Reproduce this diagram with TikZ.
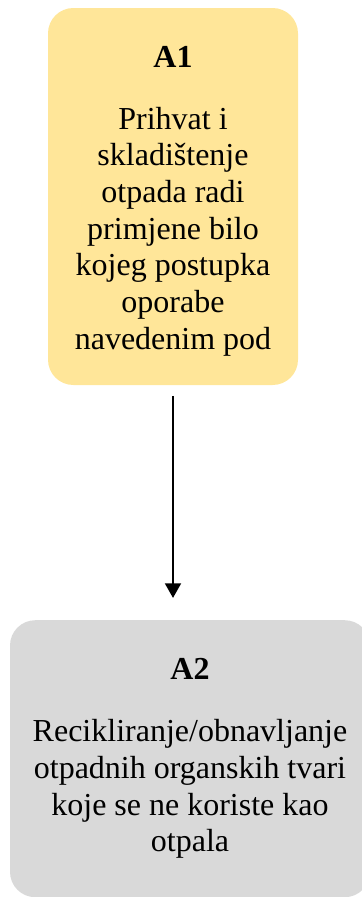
\documentclass[tikz,border=0pt]{standalone}
\usepackage{fontspec}
\setmainfont{Liberation Serif}
\usepackage{tikz}
\usetikzlibrary{arrows.meta, positioning}
\usepackage{xcolor}
\definecolor{boxyellow}{HTML}{FFE699}
\definecolor{boxgray}{HTML}{D9D9D9}

\begin{document}
\begin{tikzpicture}[
x=0.75pt, y=-0.75pt,
node distance=176pt,
box/.style={rectangle, rounded corners=19pt, inner sep=0pt, align=center,
font=\fontsize{24}{27.5}\selectfont},
arrow/.style={-{Triangle[width=12pt, length=11pt]}, line width=1.5pt}
]

\useasboundingbox (0,0) rectangle (361,897);

\node[box, fill=boxyellow, minimum width=187.5pt, minimum height=282.75pt] (a1) at (173,196.5)
{\rule{0pt}{22.7pt}\textbf{A1}\\[19pt]Prihvat i\\skladištenje\\otpada radi\\primjene bilo\\kojeg postupka\\oporabe\\navedenim pod};
\node[box, below=of a1, xshift=12.75pt, fill=boxgray, minimum width=270pt, minimum height=207.75pt] (a2)
{\textbf{A2}\\[19pt]Recikliranje/obnavljanje\\otpadnih organskih tvari\\koje se ne koriste kao\\otpala};

\draw[arrow, shorten <=8pt, shorten >=16.5pt] (a1.south) -- (a1.south |- a2.north);

\end{tikzpicture}
\end{document}
